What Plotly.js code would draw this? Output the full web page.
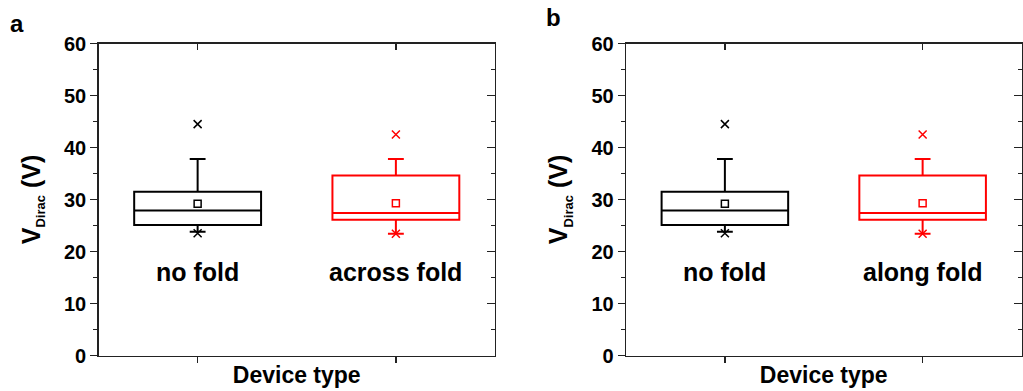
<!DOCTYPE html>
<html>
<head>
<meta charset="utf-8">
<script src="https://cdn.plot.ly/plotly-3.0.1.min.js"></script>
<style>
  html, body { margin: 0; padding: 0; background: #fff; }
  #chart { width: 1023px; height: 391px; }
</style>
</head>
<body>
<div id="chart"></div>
<script>
// ---- data ----
const categoriesA = ['no fold', 'across fold'];
const categoriesB = ['no fold', 'along fold'];
const panelLetters = ['a', 'b'];
const seriesColors = ['#000000', '#ff0000'];

// box statistics (V) for [no fold, fold]
const q1Vals = [25.1, 26.1];
const medianVals = [27.9, 27.4];
const q3Vals = [31.5, 34.6];
const lowerWhiskerVals = [23.8, 23.4];
const upperWhiskerVals = [37.8, 37.8];
const meanVals = [29.2, 29.3];
const maxVals = [44.5, 42.5];
const minVals = [23.5, 23.4];

const yTickVals = [0, 10, 20, 30, 40, 50, 60];
const yRange = [0, 60];

const FONT = 'Arial, "Liberation Sans", Helvetica, sans-serif';
const AX = '#222';

const traces = [];
const annotations = [];

function buildPanel(p, cats) {
  const xa = p === 0 ? 'x' : 'x2';
  const ya = p === 0 ? 'y' : 'y2';
  cats.forEach((c, i) => {
    const xpos = i + 1;
    const col = seriesColors[i];
    traces.push({
      type: 'box', xaxis: xa, yaxis: ya,
      x: [xpos],
      q1: [q1Vals[i]], median: [medianVals[i]], q3: [q3Vals[i]],
      lowerfence: [lowerWhiskerVals[i]], upperfence: [upperWhiskerVals[i]],
      boxpoints: false, width: 0.64, whiskerwidth: 0.125,
      line: { color: col, width: 2 }, fillcolor: 'rgba(0,0,0,0)',
      showlegend: false, hoverinfo: 'skip'
    });
    traces.push({
      type: 'scatter', mode: 'markers', xaxis: xa, yaxis: ya,
      x: [xpos], y: [meanVals[i]],
      marker: { symbol: 'square-open', size: 7, color: col, line: { width: 1.5, color: col } },
      showlegend: false, hoverinfo: 'skip'
    });
    traces.push({
      type: 'scatter', mode: 'markers', xaxis: xa, yaxis: ya,
      x: [xpos, xpos], y: [maxVals[i], minVals[i]],
      marker: { symbol: 'x-thin-open', size: 8, color: col, line: { width: 1.5, color: col } },
      showlegend: false, hoverinfo: 'skip'
    });
    annotations.push({
      xref: xa, yref: ya, x: xpos, y: 16, text: c, showarrow: false,
      xanchor: 'center', yanchor: 'middle',
      font: { family: FONT, size: 25, color: '#000', weight: 'bold' }
    });
  });
  // empty traces for the mirrored inside-tick axes
  traces.push({ type: 'scatter', x: [], y: [], xaxis: p === 0 ? 'x3' : 'x4', yaxis: p === 0 ? 'y3' : 'y4', showlegend: false, hoverinfo: 'skip' });
}
buildPanel(0, categoriesA);
buildPanel(1, categoriesB);

const domA = [98.5 / 1023, 495 / 1023];
const domB = [626 / 1023, 1021.5 / 1023];
const domY = [1 - 355.5 / 391, 1 - 43.5 / 391];

function xMain(dom, anchor) {
  return {
    domain: dom, anchor: anchor, range: [0.5, 2.5], tickvals: [1, 2],
    showticklabels: false, ticks: 'outside', ticklen: 6, tickwidth: 1.3, tickcolor: AX,
    showline: true, linecolor: AX, linewidth: 1.3, mirror: true, showgrid: false, zeroline: false,
    fixedrange: true, automargin: false,
    title: { text: 'Device type', standoff: 5, font: { family: FONT, size: 23, color: '#000', weight: 'bold' } }
  };
}
function xTop(over, anchor) {
  return {
    overlaying: over, anchor: anchor, side: 'top', range: [0.5, 2.5], tickvals: [1, 2],
    showticklabels: false, ticks: 'inside', ticklen: 6, tickwidth: 1.3, tickcolor: AX,
    showline: false, showgrid: false, zeroline: false, fixedrange: true, automargin: false
  };
}
function yMain(anchor) {
  return {
    domain: domY, anchor: anchor, range: yRange, tickvals: yTickVals,
    ticks: 'outside', ticklen: 7, tickwidth: 1.3, tickcolor: AX,
    minor: { dtick: 5, tick0: 0, ticks: 'outside', ticklen: 4, tickwidth: 1.3, tickcolor: AX },
    showline: true, linecolor: AX, linewidth: 1.3, mirror: true, showgrid: false, zeroline: false,
    tickfont: { family: FONT, size: 20, color: '#000', weight: 'bold' },
    fixedrange: true, automargin: false,
    title: { text: 'V<sub><span style="font-size:13px">Dirac</span></sub> (V)', standoff: 16,
             font: { family: FONT, size: 25, color: '#000', weight: 'bold' } }
  };
}
function yRight(over, anchor) {
  return {
    overlaying: over, anchor: anchor, side: 'right', range: yRange, tickvals: yTickVals,
    ticks: 'inside', ticklen: 8, tickwidth: 1.3, tickcolor: AX,
    minor: { dtick: 5, tick0: 0, ticks: 'inside', ticklen: 4, tickwidth: 1.3, tickcolor: AX },
    showticklabels: false, showline: false, showgrid: false, zeroline: false,
    fixedrange: true, automargin: false
  };
}

panelLetters.forEach((l, i) => {
  annotations.push({
    xref: 'paper', yref: 'paper', x: i === 0 ? 8 / 1023 : 544 / 1023, y: i === 0 ? 1 - 8 / 391 : 1 - 2 / 391,
    xanchor: 'left', yanchor: 'top', text: l, showarrow: false,
    font: { family: FONT, size: 24, color: '#000', weight: 'bold' }
  });
});

const layout = {
  width: 1023, height: 391,
  margin: { l: 0, r: 0, t: 0, b: 0 },
  paper_bgcolor: '#fff', plot_bgcolor: '#fff',
  showlegend: false,
  xaxis: xMain(domA, 'y'),
  yaxis: yMain('x'),
  xaxis2: xMain(domB, 'y2'),
  yaxis2: yMain('x2'),
  xaxis3: xTop('x', 'y'),
  yaxis3: yRight('y', 'x'),
  xaxis4: xTop('x2', 'y2'),
  yaxis4: yRight('y2', 'x2'),
  annotations: annotations
};

Plotly.newPlot('chart', traces, layout, { staticPlot: true, displayModeBar: false });
</script>
</body>
</html>
